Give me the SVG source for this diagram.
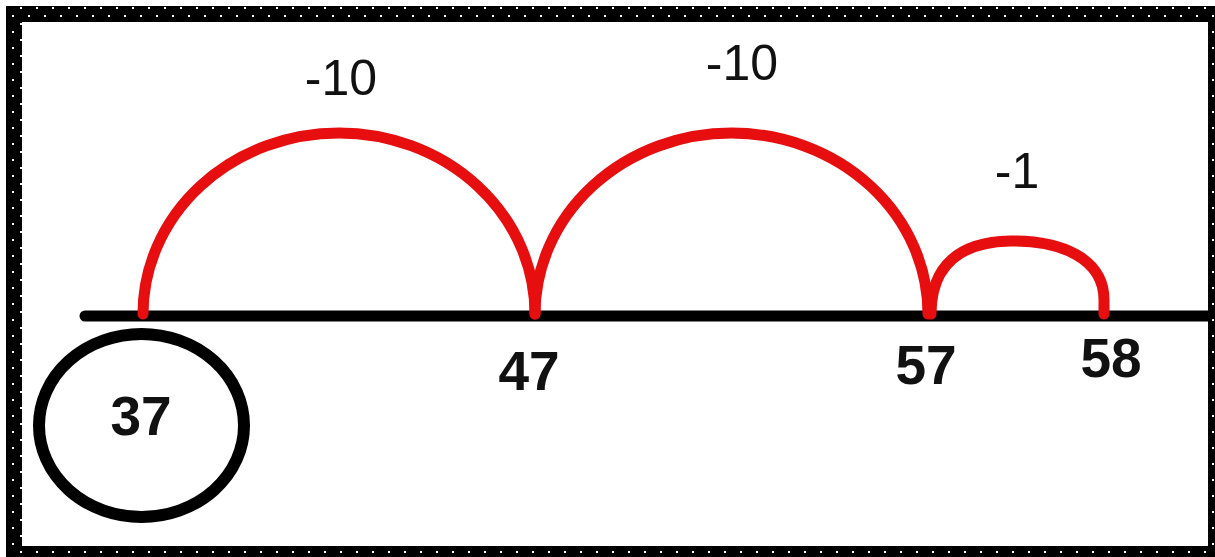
<svg xmlns="http://www.w3.org/2000/svg" width="1215" height="557" viewBox="0 0 1215 557">
  <style>
    .num { font-family: "Liberation Sans", Arial, sans-serif; font-weight: bold; font-size: 55px; fill: #111; text-anchor: middle; }
    .jump { font-family: "Liberation Sans", Arial, sans-serif; font-size: 50px; fill: #111; text-anchor: middle; }
    .arc { fill: none; stroke: #e60e0e; stroke-width: 11; stroke-linecap: round; }
  </style>
  <defs>
    <pattern id="dots" x="0" y="-1" width="16" height="16" patternUnits="userSpaceOnUse">
      <rect x="4" y="8" width="2" height="2" fill="#fff"/>
      <rect x="12" y="0" width="2" height="2" fill="#fff"/>
    </pattern>
  </defs>
  <rect width="1215" height="557" fill="#fff"/>
  <g id="frame">
    <rect x="6" y="6" width="1209" height="551" fill="#000"/>
    <rect x="6" y="6" width="1209" height="551" fill="url(#dots)"/>
    <rect x="22" y="22" width="1186" height="524" fill="#fff"/>
  </g>
  <g id="number-line">
    <line x1="85" y1="316" x2="1208" y2="316" stroke="#000" stroke-width="11" stroke-linecap="round"/>
  </g>
  <g id="connectors">
    <path class="arc" d="M143,314 A196,181 0 0 1 535,314"/>
    <path class="arc" d="M535,314 A196.5,181 0 0 1 928,314"/>
    <path class="arc" d="M931,314 C931,265 960,242 1010,241 C1060,240 1104,258 1104,300 L1104,314"/>
  </g>
  <g id="node-37">
    <ellipse cx="141.5" cy="425.5" rx="102.5" ry="91.5" fill="none" stroke="#000" stroke-width="12"/>
    <text class="num" x="141" y="435">37</text>
  </g>
  <g id="node-47">
    <text class="num" x="529" y="390">47</text>
  </g>
  <g id="node-57">
    <text class="num" x="926" y="384">57</text>
  </g>
  <g id="node-58">
    <text class="num" x="1111" y="377">58</text>
  </g>
  <g id="labels">
    <text class="jump" x="341" y="95">-10</text>
    <text class="jump" x="742" y="80">-10</text>
    <text class="jump" x="1017" y="188">-1</text>
  </g>
</svg>
